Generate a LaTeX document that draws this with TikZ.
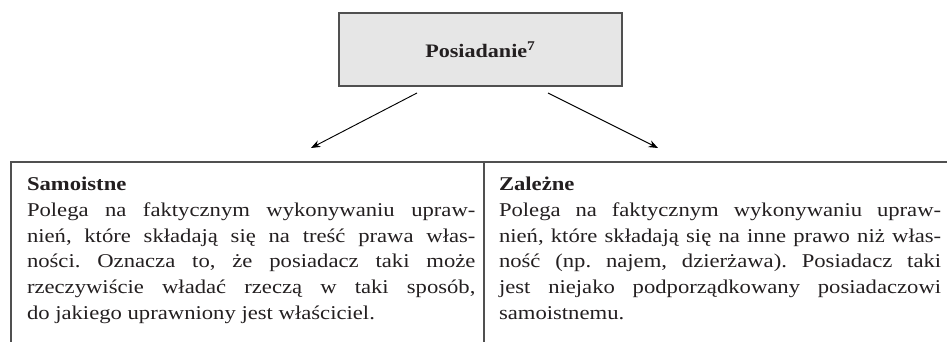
\documentclass[tikz,border=0pt]{standalone}
\usepackage{fontspec}
\setmainfont{Liberation Serif}[FakeStretch=1.16]
\usepackage{xcolor}
\definecolor{ramka}{HTML}{505050}
\definecolor{tlo}{HTML}{E6E6E6}
\definecolor{tekst}{HTML}{231F20}
\usetikzlibrary{arrows.meta}
\frenchspacing

\begin{document}
\begin{tikzpicture}[x=0.64pt,y=-0.64pt,>={Stealth[length=6pt,width=4.6pt]},
    every node/.style={inner sep=0,outer sep=0,text=tekst},
    kol/.style={align=justify,anchor=base west,font=\fontsize{12.5}{16.4}\selectfont\frenchspacing}]
    \useasboundingbox (0,0) rectangle (947,342);

    \node(pos)[draw=ramka,fill=tlo,line width=0.9pt,minimum width=181pt,minimum height=46.7pt] at (480.5,49.5) {\fontsize{12.2}{14}\selectfont\textbf{Posiadanie\textsuperscript{7}}};

    %% tabela
    \draw[ramka,line width=0.9pt] (11,342) -- (11,162) -- (947,162);
    \draw[ramka,line width=0.9pt] (484,162) -- (484,342);

    \node(sam)[kol,text width=287pt] at (27,191) {
      \textbf{Samoistne}\\
      Polega na faktycznym wykonywaniu upraw-\linebreak
      nień, które składają się na treść prawa włas-\linebreak
      ności. Oznacza to, że posiadacz taki może\linebreak
      rzeczywiście władać rzeczą w taki sposób,\linebreak
      do jakiego uprawniony jest właściciel.
    };
    \node(zal)[kol,text width=283pt] at (499,191) {
      \textbf{Zależne}\\
      Polega na faktycznym wykonywaniu upraw-\linebreak
      nień, które składają się na inne prawo niż włas-\linebreak
      ność (np. najem, dzierżawa). Posiadacz taki\linebreak
      jest niejako podporządkowany posiadaczowi\linebreak
      samoistnemu.
    };

    \coordinate(l0) at (417,93);
    \coordinate(l1) at (311,148);
    \coordinate(r0) at (548,93);
    \coordinate(r1) at (658,148);
    \draw [->,line width=0.6pt] (l0) -- (l1);
    \draw [->,line width=0.6pt] (r0) -- (r1);
\end{tikzpicture}
\end{document}
